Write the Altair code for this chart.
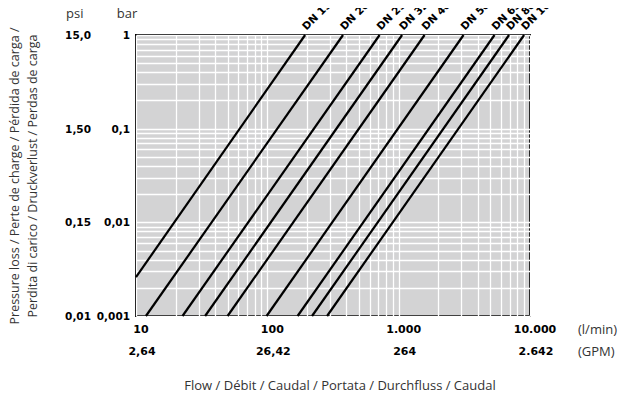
import altair as alt
import pandas as pd

# ---- data ----
dn_labels = ["DN 15", "DN 20", "DN 25", "DN 32", "DN 40", "DN 50", "DN 65", "DN 80", "DN 100"]
flow_start = [10, 11.9, 22.6, 33.6, 49.8, 98.7, 170, 219, 285]        # l/min
loss_start = [0.0026, 0.001, 0.001, 0.001, 0.001, 0.001, 0.001, 0.001, 0.001]  # bar
flow_end = [194, 377, 716, 1062, 1575, 3120, 5370, 6930, 9020]        # l/min
loss_end = [1, 1, 1, 1, 1, 1, 1, 1, 1]                                # bar

x_ticks = [10, 100, 1000, 10000]
lmin_labels = ["10", "100", "1.000", "10.000"]
gpm_labels = ["2,64", "26,42", "264", "2.642"]

y_ticks = [1, 0.1, 0.01, 0.001]
bar_labels = ["1", "0,1", "0,01", "0,001"]
psi_labels = ["15,0", "1,50", "0,15", "0,01"]

y_title_lines = ["Pressure loss / Perte de charge / Pérdida de carga /",
                 "Perdita di carico / Druckverlust / Perdas de carga"]
x_title = "Flow / Débit / Caudal / Portata / Durchfluss / Caudal"

# grid positions (1..9 per decade)
x_grid = [m * 10 ** e for e in range(1, 4) for m in range(1, 10)] + [10000]
y_grid = [m * 10.0 ** e for e in range(-3, 0) for m in range(1, 10)] + [1]

# ---- tables ----
rows = []
for lab, f0, p0, f1, p1 in zip(dn_labels, flow_start, loss_start, flow_end, loss_end):
    rows.append({"dn": lab, "flow": f0, "loss": p0})
    rows.append({"dn": lab, "flow": f1, "loss": p1})
lines_df = pd.DataFrame(rows)
lab_df = pd.DataFrame({"dn": dn_labels, "flow": flow_end, "loss": loss_end})
xt_df = pd.DataFrame({"flow": x_ticks, "lmin": lmin_labels, "gpm": gpm_labels,
                      "loss": [0.001] * 4})
yt_df = pd.DataFrame({"loss": y_ticks, "bar": bar_labels, "psi": psi_labels,
                      "flow": [10] * 4})
unit_df = pd.DataFrame({"flow": [10000], "loss": [0.001], "u1": ["(l/min)"], "u2": ["(GPM)"]})
head_df = pd.DataFrame({"flow": [10], "loss": [1], "psi": ["psi"], "bar": ["bar"]})
yt_title_df = pd.DataFrame({"flow": [10], "l1": [y_title_lines[0]], "l2": [y_title_lines[1]]})
xt_title_df = pd.DataFrame({"t": [x_title]})

W, H = 394, 281
xs = alt.Scale(type="log", domain=[10, 10000])
ys = alt.Scale(type="log", domain=[0.001, 1])

BOLD = "DejaVu Sans"
REG = "Open Sans"


def X(field="flow"):
    return alt.X(f"{field}:Q", scale=xs, title=None)


def Y(field="loss"):
    return alt.Y(f"{field}:Q", scale=ys, title=None)


lines = alt.Chart(lines_df).mark_line(color="black", strokeWidth=2.2).encode(
    x=alt.X("flow:Q", scale=xs, title=None,
            axis=alt.Axis(values=x_grid, labels=False, ticks=False, domain=False,
                          grid=True, gridColor="white", gridWidth=1.3, gridOpacity=1)),
    y=alt.Y("loss:Q", scale=ys, title=None,
            axis=alt.Axis(values=y_grid, labels=False, ticks=False, domain=False,
                          grid=True, gridColor="white", gridWidth=1.3, gridOpacity=1)),
    detail="dn:N",
)

dn_text = alt.Chart(lab_df).mark_text(
    angle=315, align="left", baseline="bottom", dx=4, dy=0,
    font=BOLD, fontWeight="bold", fontSize=10.5, color="black"
).encode(x=X(), y=Y(), text="dn:N")

lmin_text = alt.Chart(xt_df).mark_text(
    align="center", baseline="middle", dx=5, dy=14,
    font=BOLD, fontWeight="bold", fontSize=11, color="black"
).encode(x=X(), y=Y(), text="lmin:N")

gpm_text = alt.Chart(xt_df).mark_text(
    align="center", baseline="middle", dx=6, dy=36,
    font=BOLD, fontWeight="bold", fontSize=11, color="black"
).encode(x=X(), y=Y(), text="gpm:N")

u1_text = alt.Chart(unit_df).mark_text(
    align="left", baseline="middle", dx=48, dy=14,
    font=REG, fontSize=13, color="#333333"
).encode(x=X(), y=Y(), text="u1:N")

u2_text = alt.Chart(unit_df).mark_text(
    align="left", baseline="middle", dx=48, dy=36,
    font=REG, fontSize=13, color="#333333"
).encode(x=X(), y=Y(), text="u2:N")

bar_text = alt.Chart(yt_df).mark_text(
    align="right", baseline="middle", dx=-6, dy=1,
    font=BOLD, fontWeight="bold", fontSize=10.5, color="black"
).encode(x=X(), y=Y(), text="bar:N")

psi_text = alt.Chart(yt_df).mark_text(
    align="right", baseline="middle", dx=-45, dy=1,
    font=BOLD, fontWeight="bold", fontSize=10.5, color="black"
).encode(x=X(), y=Y(), text="psi:N")

psi_head = alt.Chart(head_df).mark_text(
    align="left", baseline="middle", dx=-70, dy=-21,
    font=REG, fontSize=13, color="#333333"
).encode(x=X(), y=Y(), text="psi:N")

bar_head = alt.Chart(head_df).mark_text(
    align="center", baseline="middle", dx=-9, dy=-21,
    font=REG, fontSize=13, color="#333333"
).encode(x=X(), y=Y(), text="bar:N")

yt1 = alt.Chart(yt_title_df).mark_text(
    angle=270, align="center", baseline="middle",
    font=REG, fontSize=12.5, color="#333333"
).encode(x=X(), y=alt.value(141), text="l1:N", xOffset=alt.value(-121))

yt2 = alt.Chart(yt_title_df).mark_text(
    angle=270, align="center", baseline="middle",
    font=REG, fontSize=12.5, color="#333333"
).encode(x=X(), y=alt.value(141), text="l2:N", xOffset=alt.value(-103))

xt = alt.Chart(xt_title_df).mark_text(
    align="center", baseline="middle",
    font=REG, fontSize=13, color="#333333"
).encode(x=alt.value(204), y=alt.value(351), text="t:N")

chart = alt.layer(
    lines, dn_text, lmin_text, gpm_text, u1_text, u2_text,
    bar_text, psi_text, psi_head, bar_head, yt1, yt2, xt
).properties(
    width=W, height=H,
    background="white",
    autosize=alt.AutoSizeParams(type="none"),
    padding={"left": 128, "top": 27, "right": 88, "bottom": 77},
).configure_view(
    fill="#d3d3d4", stroke="black", strokeWidth=2
)

chart.save("out.html", embed_options={"renderer": "svg", "actions": False})
